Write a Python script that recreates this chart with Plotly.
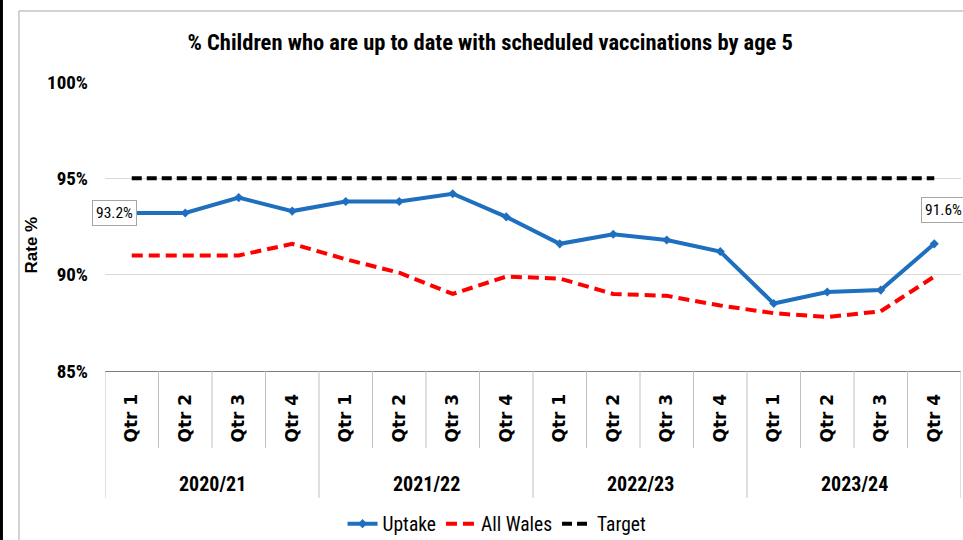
import plotly.graph_objects as go

years = ["2020/21", "2021/22", "2022/23", "2023/24"]
quarters = ["Qtr 1", "Qtr 2", "Qtr 3", "Qtr 4"]
uptake = [93.2, 93.2, 94.0, 93.3, 93.8, 93.8, 94.2, 93.0,
          91.6, 92.1, 91.8, 91.2, 88.5, 89.1, 89.2, 91.6]
all_wales = [91.0, 91.0, 91.0, 91.6, 90.8, 90.1, 89.0, 89.9,
             89.8, 89.0, 88.9, 88.4, 88.0, 87.8, 88.1, 89.9]
target = [95.0] * 16
y_ticks = [85, 90, 95, 100]

NARROW = "Liberation Sans Narrow, Roboto Condensed, DejaVu Sans Condensed, sans-serif"
WIDE_BOLD = "DejaVu Sans, Verdana, sans-serif"

n = len(uptake)
x = list(range(n))
tick_text = [q for _ in years for q in quarters]

fig = go.Figure()
fig.add_trace(go.Scatter(x=x, y=uptake, name="Uptake", mode="lines+markers",
                         line=dict(color="#1F6FBF", width=4),
                         marker=dict(symbol="diamond", size=7, color="#1F6FBF")))
fig.add_trace(go.Scatter(x=x, y=all_wales, name="All Wales", mode="lines",
                         line=dict(color="#FF0000", width=4, dash="11px,6px")))
fig.add_trace(go.Scatter(x=x, y=target, name="Target", mode="lines",
                         line=dict(color="#000000", width=4, dash="10px,5px")))

shapes = []
# outer frame
shapes.append(dict(type="rect", xref="paper", yref="paper", x0=-0.1005, x1=1.2,
                   y0=-0.9, y1=1.2457, line=dict(color="#A6A6A6", width=1), layer="below"))
shapes.append(dict(type="rect", xref="paper", yref="paper", x0=-0.1227, x1=-0.1192,
                   y0=-0.9, y1=1.3, line=dict(width=0), fillcolor="#000000"))
# category dividers
for k in range(n + 1):
    pos = k - 0.5
    major = (k % 4 == 0)
    shapes.append(dict(type="line", xref="x", yref="paper", x0=pos, x1=pos,
                       y0=0, y1=(-0.439 if major else -0.266),
                       line=dict(color="#BFBFBF", width=1)))

annotations = []
for i, yr in enumerate(years):
    annotations.append(dict(x=i * 4 + 1.5, y=-0.377, xref="x", yref="paper",
                            text=yr, showarrow=False, yshift=-18,
                            font=dict(family=NARROW, size=20, color="#000000", weight="bold")))
annotations.append(dict(x=-0.0876, y=0.436, xref="paper", yref="paper", text="Rate %",
                        textangle=-90, showarrow=False, xshift=-10,
                        font=dict(family="Liberation Sans, Arial, sans-serif", size=17,
                                  color="#000000", weight="bold")))
annotations.append(dict(x=0, y=uptake[0], xref="x", yref="y", text=f"{uptake[0]:.1f}%",
                        showarrow=False, xshift=-17, bgcolor="#FFFFFF",
                        bordercolor="#A6A6A6", borderwidth=1, borderpad=3,
                        font=dict(family=NARROW, size=15.5, color="#000000")))
annotations.append(dict(x=n - 1, y=uptake[-1], xref="x", yref="y", text=f"{uptake[-1]:.1f}%",
                        showarrow=False, xshift=9, yshift=34, bgcolor="#FFFFFF",
                        bordercolor="#A6A6A6", borderwidth=1, borderpad=3,
                        font=dict(family=NARROW, size=15.5, color="#000000")))

fig.update_layout(
    width=963, height=540,
    margin=dict(l=105, r=2, t=82, b=169, autoexpand=False),
    paper_bgcolor="#FFFFFF", plot_bgcolor="#FFFFFF",
    title=dict(text="% Children who are up to date with scheduled vaccinations by age 5",
               x=0.509, xanchor="center", y=1 - 42 / 540, yanchor="middle",
               font=dict(family=NARROW, size=22.5, color="#000000", weight="bold")),
    xaxis=dict(range=[-0.5, n - 0.5], tickvals=x, ticktext=tick_text, tickangle=-90,
               showgrid=False, zeroline=False, showline=True, linecolor="#7F7F7F",
               linewidth=1, ticks="", ticklabelstandoff=15,
               tickfont=dict(family=WIDE_BOLD, size=17, color="#000000", weight="bold")),
    yaxis=dict(range=[85, 100], tickvals=y_ticks, ticktext=[f"{v}%" for v in y_ticks],
               showgrid=True, gridcolor="#D9D9D9", gridwidth=1, zeroline=False,
               showline=False, ticks="", ticklabelstandoff=16,
               tickfont=dict(family=NARROW, size=19, color="#000000", weight="bold")),
    legend=dict(orientation="h", x=0.458, xanchor="center",
                yref="container", y=1 - 524 / 540, yanchor="middle",
                font=dict(family=NARROW, size=19.5, color="#000000"),
                itemwidth=30, tracegroupgap=0, bgcolor="rgba(0,0,0,0)"),
    shapes=shapes, annotations=annotations, showlegend=True,
)

fig.write_html("out.html")
